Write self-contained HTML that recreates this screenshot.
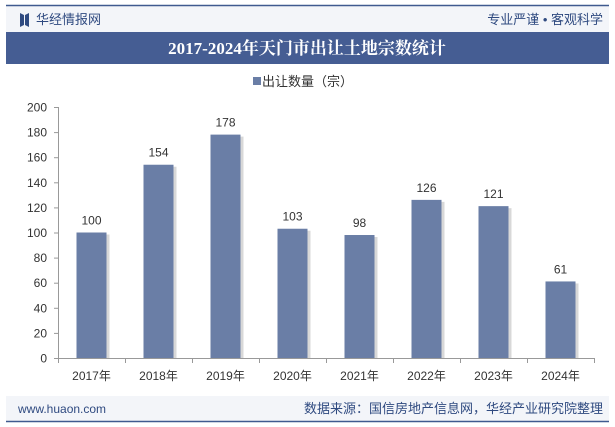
<!DOCTYPE html>
<html><head><meta charset="utf-8">
<style>
body{margin:0;background:#fff;}
#wrap{position:relative;width:615px;height:427px;overflow:hidden;background:#fff;font-family:"Liberation Sans","Noto Sans CJK SC",sans-serif;}
</style></head>
<body>
<div id="wrap">
<svg id="svg" width="615" height="427" xmlns="http://www.w3.org/2000/svg">
  <rect x="6" y="6" width="603" height="26" fill="#f3f5f9"/>
  <line x1="6" y1="5.5" x2="609" y2="5.5" stroke="#3f5a8f" stroke-width="1.5"/>
  <g>
    <polygon points="20,13 24,15 24,25 20,27" fill="#2f4a80"/>
    <polygon points="25,15 29,13 29,27 25,25" fill="#2f4a80"/>
  </g>
  <text x="36" y="24" font-size="13" fill="#2f4a80">华经情报网</text>
  <text x="603" y="24" font-size="13" fill="#2f4a80" text-anchor="end">专业严谨 • 客观科学</text>
  <rect x="6" y="32" width="603" height="32" fill="#455d93"/>
  <text x="307" y="54" font-size="17" font-weight="bold" fill="#fff" text-anchor="middle" font-family="'Liberation Serif','Noto Serif CJK SC',serif">2017-2024年天门市出让土地宗数统计</text>
  <g>
    <rect x="253" y="77" width="8" height="8" fill="#6a7ea6"/>
    <text x="262" y="86" font-size="13" fill="#333">出让数量（宗）</text>
  </g>
  <g id="axes"></g>
  <g id="bars"></g>
  <rect x="6" y="396" width="603" height="25" fill="#f3f5f9"/>
  <line x1="6" y1="421.5" x2="609" y2="421.5" stroke="#3f5a8f" stroke-width="1.5"/>
  <text x="18" y="413" font-size="12" fill="#2f4a80">www.huaon.com</text>
  <text x="603" y="413" font-size="13" fill="#2f4a80" text-anchor="end">数据来源：国信房地产信息网，华经产业研究院整理</text>
</svg>
</div>
<script>
const categories = ["2017年","2018年","2019年","2020年","2021年","2022年","2023年","2024年"];
const values = [100,154,178,103,98,126,121,61];
const yTicks = [0,20,40,60,80,100,120,140,160,180,200];

const NS="http://www.w3.org/2000/svg";
const x0=58, x1=594, yBase=358, yTop=107, yMax=200;
const band=(x1-x0)/categories.length;
const xc=i=>x0+band*(i+0.5);
const ys=v=>yBase-(v/yMax)*(yBase-yTop);
function mk(tag,attrs,parent){const e=document.createElementNS(NS,tag);for(const k in attrs)e.setAttribute(k,attrs[k]);parent.appendChild(e);return e;}
const axes=document.getElementById('axes');
const bars=document.getElementById('bars');

const yAxis=mk('line',{x1:x0+0.5,y1:yTop,x2:x0+0.5,y2:yBase,stroke:'#999'},axes);


yTicks.forEach(t=>{
  const y=ys(t);
  const tk=mk('line',{x1:x0-4,y1:y+0.5,x2:x0,y2:y+0.5,stroke:'#999'},axes);
  
  
  const lb=mk('text',{x:x0-11,y:y+4.5,'font-size':12,fill:'#333','text-anchor':'end'},axes);
  lb.textContent=t;
  
  
});
const xAxis=mk('line',{x1:x0,y1:yBase+0.5,x2:x1,y2:yBase+0.5,stroke:'#999'},axes);


for(let i=0;i<=categories.length;i++){
  const x=x0+band*i;
  const tk=mk('line',{x1:x+0.5,y1:yBase,x2:x+0.5,y2:yBase+5,stroke:'#999'},axes);
  
  
}
categories.forEach((c,i)=>{
  const lb=mk('text',{x:xc(i),y:yBase+22,'font-size':12,fill:'#333','text-anchor':'middle'},axes);
  lb.textContent=c;
  
  
  const v=values[i], bw=30;
  const sh=mk('rect',{x:xc(i)-bw/2+3,y:ys(v)+2,width:bw,height:yBase-ys(v)-2,fill:'#d8d8d8'},bars);
  
  
  const r=mk('rect',{x:xc(i)-bw/2,y:ys(v),width:bw,height:yBase-ys(v),fill:'#6a7ea6'},bars);
  
  
  const vl=mk('text',{x:xc(i),y:ys(v)-8,'font-size':12,fill:'#333','text-anchor':'middle'},bars);
  vl.textContent=v;
  
  
});
</script>
</body></html>
